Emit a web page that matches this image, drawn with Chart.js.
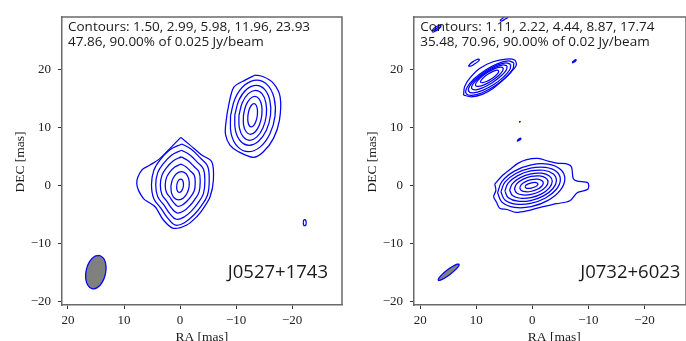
<!DOCTYPE html>
<html>
<head>
<meta charset="utf-8">
<script src="https://cdn.jsdelivr.net/npm/chart.js@4.4.0/dist/chart.umd.min.js"></script>
<style>
  html, body { margin: 0; padding: 0; background: #fff; overflow: hidden; }
  .panel { position: absolute; top: 0; width: 343px; height: 341px; }
  #left { left: 0; }
  #right { left: 343px; }
</style>
</head>
<body>
<div class="panel" id="left"><canvas id="c1" width="343" height="341"></canvas></div>
<div class="panel" id="right"><canvas id="c2" width="343" height="341"></canvas></div>
<script>
// tick values (mas)
const xTicks = [20, 10, 0, -10, -20];
const yTicks = [-20, -10, 0, 10, 20];

// ---- J0527+1743 : contour rings, outermost first, [RA, DEC] in mas
const j0527Core = [
  [[-0.13,8.34],[-1.79,7.0],[-3.87,5.29],[-5.66,4.14],[-5.95,0.98],[-5.36,-1.9],[-4.16,-3.9],[-2.98,-5.34],[-1.2,-6.78],[1.2,-7.34],[2.98,-5.91],[4.46,-3.62],[6.55,-2.17],[7.73,0.41],[6.84,2.71],[5.36,3.57],[3.57,4.72],[1.79,6.45]],
  [[-0.3,7.2],[-2.0,6.3],[-3.6,4.8],[-4.9,3.4],[-5.2,1.0],[-4.9,-1.6],[-3.7,-3.6],[-2.5,-5.0],[-0.9,-6.3],[0.8,-6.8],[2.2,-5.6],[3.4,-3.9],[4.7,-2.2],[5.1,0.2],[4.7,2.6],[3.6,4.4],[1.8,6.2]],
  [[-0.26,6.12],[-1.7,5.36],[-3.06,4.08],[-4.17,2.89],[-4.42,0.85],[-4.17,-1.36],[-3.15,-3.06],[-2.13,-4.25],[-0.77,-5.36],[0.68,-5.78],[1.87,-4.76],[2.89,-3.32],[4.0,-1.87],[4.34,0.17],[4.0,2.21],[3.06,3.74],[1.53,5.27]],
  [[-0.21,4.97],[-1.38,4.35],[-2.48,3.31],[-3.38,2.35],[-3.59,0.69],[-3.38,-1.1],[-2.55,-2.48],[-1.73,-3.45],[-0.62,-4.35],[0.55,-4.69],[1.52,-3.86],[2.35,-2.69],[3.24,-1.52],[3.52,0.14],[3.24,1.79],[2.48,3.04],[1.24,4.28]],
  [[-0.16,3.74],[-1.04,3.28],[-1.87,2.5],[-2.55,1.77],[-2.7,0.52],[-2.55,-0.83],[-1.92,-1.87],[-1.3,-2.6],[-0.47,-3.28],[0.42,-3.54],[1.14,-2.91],[1.77,-2.03],[2.44,-1.14],[2.65,0.1],[2.44,1.35],[1.87,2.29],[0.94,3.22]],
  [[1.63,0],[1.29,1.22],[0.6,2.11],[-0.24,2.44],[-1.03,2.11],[-1.53,1.22],[-1.63,0],[-1.29,-1.22],[-0.6,-2.11],[0.24,-2.44],[1.03,-2.11],[1.53,-1.22]],
  [[0.6,0],[0.46,0.58],[0.2,1.0],[-0.12,1.15],[-0.4,1.0],[-0.58,0.58],[-0.6,0],[-0.46,-0.58],[-0.2,-1.0],[0.12,-1.15],[0.4,-1.0],[0.58,-0.58]]
];
const j0527Jet = [
  [[-13.39,19.09],[-14.88,18.79],[-16.67,17.66],[-17.86,15.34],[-17.74,11.33],[-16.67,8.17],[-14.88,5.86],[-13.1,4.9],[-10.42,5.86],[-8.9,7.0],[-8.1,8.9],[-8.2,11.0],[-8.7,14.0],[-9.6,17.0],[-11.61,18.22]],
  [[-9.0,12.05],[-9.86,15.14],[-11.59,17.4],[-13.69,18.23],[-15.59,17.4],[-16.78,15.14],[-16.95,12.05],[-16.04,8.96],[-14.31,6.7],[-12.21,5.87],[-10.31,6.7],[-9.12,8.96]],
  [[-9.76,12.15],[-10.5,14.74],[-11.89,16.63],[-13.57,17.32],[-15.09,16.63],[-16.02,14.74],[-16.14,12.15],[-15.4,9.56],[-14.01,7.67],[-12.33,6.98],[-10.81,7.67],[-9.88,9.56]],
  [[-10.51,12.15],[-11.1,14.31],[-12.18,15.88],[-13.47,16.46],[-14.62,15.88],[-15.32,14.31],[-15.39,12.15],[-14.8,9.99],[-13.72,8.42],[-12.43,7.84],[-11.28,8.42],[-10.58,9.99]],
  [[-11.31,12.15],[-11.73,13.79],[-12.47,14.99],[-13.34,15.43],[-14.11,14.99],[-14.57,13.79],[-14.59,12.15],[-14.17,10.51],[-13.43,9.31],[-12.56,8.87],[-11.79,9.31],[-11.33,10.51]],
  [[-12.11,12.15],[-12.34,13.15],[-12.74,13.88],[-13.19,14.15],[-13.58,13.88],[-13.8,13.15],[-13.79,12.15],[-13.56,11.15],[-13.16,10.42],[-12.71,10.15],[-12.32,10.42],[-12.1,11.15]]
];
const j0527Spots = [
  [[-22.0,-6.4],[-22.05,-6.0],[-22.25,-5.85],[-22.45,-6.0],[-22.5,-6.4],[-22.45,-6.75],[-22.25,-6.9],[-22.05,-6.75]]
];
const j0527Beam = [[14.35,-12.01],[15.29,-12.19],[16.16,-13.09],[16.73,-14.48],[16.84,-15.97],[16.47,-17.17],[15.71,-17.75],[14.77,-17.57],[13.9,-16.67],[13.33,-15.28],[13.22,-13.79],[13.59,-12.59]];
const j0527Note = ['Contours: 1.50, 2.99, 5.98, 11.96, 23.93', '47.86, 90.00% of 0.025 Jy/beam'];
const j0527Name = 'J0527+1743';

// ---- J0732+6023
const j0732Core = [
  [[6.7,0.3],[5.5,1.6],[4.0,2.8],[2.5,3.9],[1.0,4.5],[-1.0,4.7],[-3.0,4.2],[-4.4,3.9],[-6.4,3.7],[-7.0,3.2],[-7.3,1.2],[-8.0,0.8],[-9.9,0.5],[-9.9,-0.6],[-8.0,-1.2],[-6.7,-2.6],[-4.3,-3.1],[-1.9,-3.6],[0.8,-4.3],[2.9,-4.6],[4.5,-4.1],[5.8,-3.9],[6.4,-2.8],[6.9,-1.9],[6.5,-0.8]],
  [[6.2,-1.2],[5.4,0.76],[3.2,2.52],[0.2,3.6],[-2.8,3.72],[-5.0,2.84],[-5.8,1.2],[-5.0,-0.76],[-2.8,-2.52],[0.2,-3.6],[3.2,-3.72],[5.4,-2.84]],
  [[5.6,-1.06],[4.89,0.61],[2.95,2.11],[0.3,3.05],[-2.35,3.17],[-4.29,2.45],[-5.0,1.06],[-4.29,-0.61],[-2.35,-2.11],[0.3,-3.05],[2.95,-3.17],[4.89,-2.45]],
  [[4.9,-0.92],[4.28,0.48],[2.6,1.75],[0.3,2.55],[-2.0,2.67],[-3.68,2.08],[-4.3,0.92],[-3.68,-0.48],[-2.0,-1.75],[0.3,-2.55],[2.6,-2.67],[4.28,-2.08]],
  [[4.05,-0.76],[3.54,0.37],[2.15,1.4],[0.25,2.05],[-1.65,2.16],[-3.04,1.69],[-3.55,0.76],[-3.04,-0.37],[-1.65,-1.4],[0.25,-2.05],[2.15,-2.16],[3.54,-1.69]],
  [[3.2,-0.55],[2.8,0.31],[1.7,1.09],[0.2,1.6],[-1.3,1.69],[-2.4,1.35],[-2.8,0.65],[-2.4,-0.21],[-1.3,-0.99],[0.2,-1.5],[1.7,-1.59],[2.8,-1.25]],
  [[2.25,-0.37],[1.97,0.19],[1.2,0.71],[0.15,1.05],[-0.9,1.13],[-1.67,0.91],[-1.95,0.47],[-1.67,-0.09],[-0.9,-0.61],[0.15,-0.95],[1.2,-1.03],[1.97,-0.81]],
  [[1.3,-0.18],[1.15,0.08],[0.73,0.32],[0.15,0.5],[-0.43,0.56],[-0.85,0.48],[-1.0,0.28],[-0.85,0.02],[-0.43,-0.22],[0.15,-0.4],[0.73,-0.46],[1.15,-0.38]]
];
const j0732North = [
  [[12.26,15.63],[12.08,17.07],[11.19,18.51],[9.4,20.23],[7.02,21.38],[4.64,21.84],[3.15,21.67],[2.86,20.8],[3.75,19.66],[5.24,18.22],[7.02,16.78],[8.81,15.8],[10.89,15.34]],
  [[3.3,21.2],[4.29,21.52],[6.16,21.06],[8.4,19.91],[10.42,18.4],[11.65,16.94],[11.8,15.9],[10.81,15.58],[8.94,16.04],[6.7,17.19],[4.68,18.7],[3.45,20.16]],
  [[3.86,20.93],[4.72,21.2],[6.35,20.76],[8.32,19.75],[10.09,18.42],[11.2,17.16],[11.34,16.27],[10.48,16.0],[8.85,16.44],[6.88,17.45],[5.11,18.78],[4.0,20.04]],
  [[4.5,20.66],[5.21,20.85],[6.56,20.45],[8.21,19.59],[9.7,18.49],[10.65,17.45],[10.8,16.74],[10.09,16.55],[8.74,16.95],[7.09,17.81],[5.6,18.91],[4.65,19.95]],
  [[5.18,20.34],[5.73,20.47],[6.79,20.16],[8.07,19.48],[9.25,18.62],[9.99,17.81],[10.12,17.26],[9.57,17.13],[8.51,17.44],[7.23,18.12],[6.05,18.98],[5.31,19.79]],
  [[5.98,19.86],[6.33,19.93],[7.02,19.72],[7.87,19.28],[8.64,18.72],[9.13,18.19],[9.22,17.84],[8.87,17.77],[8.18,17.98],[7.33,18.42],[6.56,18.98],[6.07,19.51]]
];
const j0732Spots = [
  [[11.4,20.6],[11.1,21.0],[10.5,21.45],[9.8,21.8],[9.45,21.75],[9.7,21.4],[10.3,21.0],[10.9,20.65]],
  [[17.9,26.6],[17.6,27.1],[17.0,27.5],[16.4,27.7],[16.3,27.5],[16.6,27.1],[17.2,26.7],[17.7,26.5]],
  [[17.5,26.85],[17.0,27.2],[16.6,27.35],[16.7,27.1],[17.2,26.8]],
  [[5.8,28.5],[5.3,28.9],[4.6,29.3],[4.2,29.4],[4.3,29.1],[4.9,28.7],[5.5,28.4]],
  [[-7.1,21.3],[-7.4,21.55],[-7.75,21.75],[-7.8,21.6],[-7.5,21.35],[-7.2,21.2]],
  [[2.7,7.8],[2.4,8.05],[2.1,8.2],[2.05,8.05],[2.35,7.85],[2.65,7.7]],
  [[2.35,10.98],[2.2,11.08],[2.18,11.0],[2.3,10.95]]
];
const j0732Beam = [[13.02,-13.52],[13.41,-13.52],[14.19,-13.9],[15.17,-14.54],[16.07,-15.28],[16.66,-15.92],[16.78,-16.28],[16.39,-16.28],[15.61,-15.9],[14.63,-15.26],[13.73,-14.52],[13.14,-13.88]];
const j0732Note = ['Contours: 1.11, 2.22, 4.44, 8.87, 17.74', '35.48, 70.96, 90.00% of 0.02 Jy/beam'];
const j0732Name = 'J0732+6023';

const BLUE = '#0000ff';
const SPINE = '#6a6a6a';
const SERIF = '"Liberation Serif", "DejaVu Serif", serif';
const SANS = '"Open Sans", "DejaVu Sans", sans-serif';

function loop(pts) {
  return pts.concat([pts[0]]).map(p => ({ x: p[0], y: p[1] }));
}

function ringSet(rings, tension) {
  return rings.map(r => ({
    data: loop(r), showLine: true, pointRadius: 0, borderColor: BLUE,
    borderWidth: 1.25, tension: tension, fill: false
  }));
}

function fmt(v) {
  return v < 0 ? '\u2212' + Math.abs(v) : String(v);
}

// fills the closed beam outline before its blue edge is stroked
const beamFill = {
  id: 'beamFill',
  beforeDatasetDraw(chart, args) {
    const ds = chart.data.datasets[args.index];
    if (!ds.fillColor) return;
    const ctx = chart.ctx;
    ctx.save();
    ctx.beginPath();
    args.meta.dataset.path(ctx);
    ctx.closePath();
    ctx.fillStyle = ds.fillColor;
    ctx.fill();
    ctx.restore();
  }
};

// frame, notes, source name and axis titles
const decorations = {
  id: 'decorations',
  afterDraw(chart, args, o) {
    const { ctx, chartArea: a, scales: { x, y } } = chart;
    ctx.save();
    ctx.strokeStyle = SPINE;
    ctx.lineWidth = 1.5;
    ctx.beginPath();
    ctx.moveTo(a.left, a.top);
    ctx.lineTo(a.right, a.top);
    ctx.lineTo(a.right, a.bottom);
    ctx.stroke();

    ctx.fillStyle = '#1a1a1a';
    ctx.font = '13.5px ' + SANS;
    ctx.textAlign = 'left';
    ctx.textBaseline = 'alphabetic';
    ctx.fillText(o.note[0], x.getPixelForValue(20), y.getPixelForValue(26.6));
    ctx.fillText(o.note[1], x.getPixelForValue(20), y.getPixelForValue(24.05));

    ctx.font = '18.5px ' + SANS;
    ctx.textAlign = 'right';
    ctx.fillText(o.name, x.getPixelForValue(-26.4), y.getPixelForValue(-15.9));

    ctx.font = '13.5px ' + SERIF;
    ctx.textAlign = 'center';
    ctx.textBaseline = 'top';
    ctx.fillText('RA [mas]', x.getPixelForValue(-3.9), 331);

    ctx.translate(a.left - 38, (a.top + a.bottom) / 2 + 1);
    ctx.rotate(-Math.PI / 2);
    ctx.textBaseline = 'alphabetic';
    ctx.fillText('DEC [mas]', 0, 0);
    ctx.restore();
  }
};

function axis(extra) {
  return Object.assign({
    type: 'linear',
    grid: { drawOnChartArea: false, drawTicks: true, tickLength: 4, tickColor: '#333', tickWidth: 1 },
    border: { display: true, color: SPINE, width: 1.5 },
    ticks: { font: { family: SERIF, size: 13 }, color: '#222', autoSkip: false, maxRotation: 0, callback: fmt }
  }, extra);
}

function makeChart(id, p) {
  const datasets = []
    .concat(ringSet(p.rings, 0.4))
    .concat(ringSet(p.outer, 0.3))
    .concat(ringSet(p.spots, 0.4));
  const beam = ringSet([p.beam], 0.4)[0];
  beam.fillColor = '#808080';
  datasets.push(beam);

  return new Chart(document.getElementById(id), {
    type: 'scatter',
    data: { datasets },
    options: {
      responsive: false,
      animation: false,
      events: [],
      devicePixelRatio: 1,
      layout: { padding: { top: 17, right: p.padRight, left: 0, bottom: 0 } },
      plugins: { legend: { display: false }, tooltip: { enabled: false },
        decorations: { note: p.note, name: p.name } },
      scales: {
        x: axis({
          reverse: true, min: p.xMin, max: p.xMax,
          afterFit: s => { s.height = 36; },
          afterBuildTicks: s => { s.ticks = xTicks.map(v => ({ value: v })); },
          ticks: { font: { family: SERIF, size: 13 }, color: '#222', autoSkip: false, maxRotation: 0, padding: 4, callback: fmt }
        }),
        y: axis({
          min: -20.57, max: 29.1,
          afterFit: s => { s.width = p.yWidth; },
          afterBuildTicks: s => { s.ticks = yTicks.map(v => ({ value: v })); },
          ticks: { font: { family: SERIF, size: 13 }, color: '#222', autoSkip: false, padding: 7, callback: fmt }
        })
      }
    },
    plugins: [beamFill, decorations]
  });
}

makeChart('c1', {
  rings: j0527Core.slice(1).concat(j0527Jet.slice(1)),
  outer: [j0527Core[0], j0527Jet[0]],
  spots: j0527Spots, beam: j0527Beam,
  note: j0527Note, name: j0527Name,
  xMin: -28.9, xMax: 21.07, yWidth: 62, padRight: 1
});

makeChart('c2', {
  rings: j0732Core.slice(1).concat(j0732North.slice(1)),
  outer: [j0732Core[0], j0732North[0]],
  spots: j0732Spots, beam: j0732Beam,
  note: j0732Note, name: j0732Name,
  xMin: -27.4, xMax: 21.1, yWidth: 71, padRight: 0
});
</script>
</body>
</html>
